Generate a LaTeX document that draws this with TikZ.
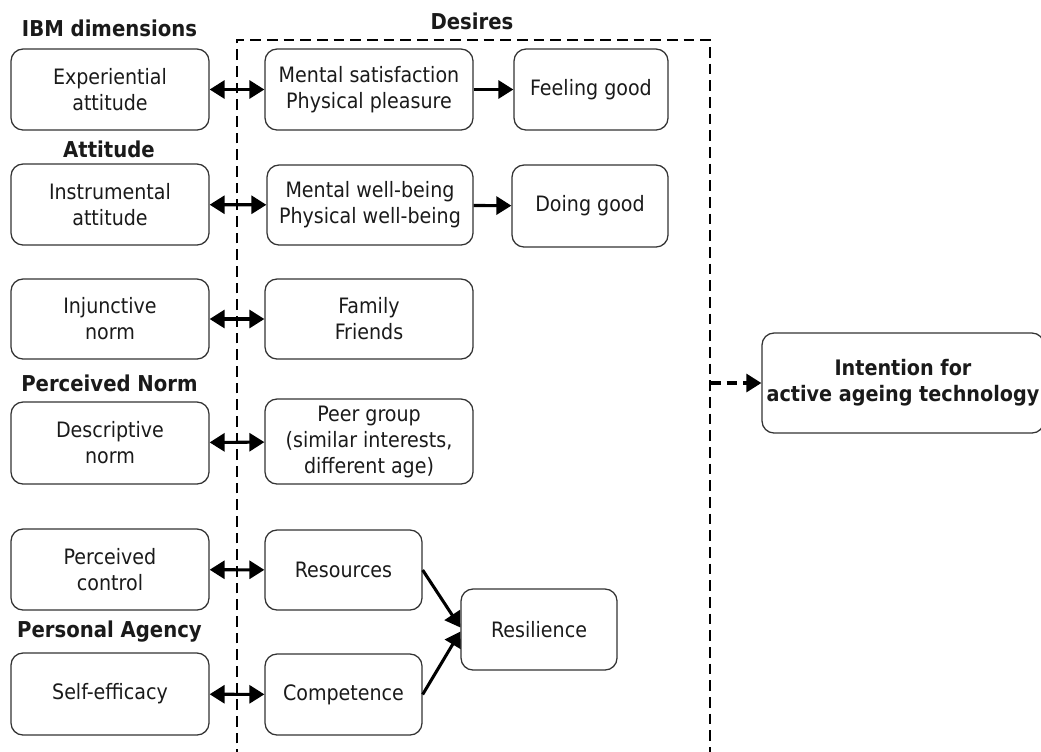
\documentclass[tikz,border=0pt]{standalone}
\usepackage{fontspec}
\setmainfont{DejaVu Sans Condensed}
\usetikzlibrary{arrows.meta}
\definecolor{ink}{HTML}{1A1A1A}
\definecolor{edge}{HTML}{333333}
\tikzset{
  box/.style={draw=edge, line width=0.95pt, rounded corners=9pt, align=center, text=ink,
    font=\fontsize{15.9}{19.5}\selectfont, inner sep=0pt},
  lab/.style={text=ink, font=\fontsize{16.4}{19.5}\selectfont\bfseries, inner sep=0pt},
  tip/.style={line width=2.3pt, draw=black},
  dbl/.style={tip, {Triangle[length=11.25pt,width=13.5pt]}-{Triangle[length=11.25pt,width=13.5pt]}},
  sgl/.style={tip, -{Triangle[length=11.25pt,width=13.5pt]}},
  frame/.style={line width=2.2pt, dash pattern=on 8pt off 4.5pt},
}
\begin{document}
\begin{tikzpicture}[x=0.75pt,y=-0.75pt]
\useasboundingbox (0,0) rectangle (1041,751);
% labels
\node[lab] (ibm) at (109.5,28) {IBM dimensions};
\node[lab] (des) at (472,21) {Desires};
\node[lab] (att) at (109,149) {Attitude};
\node[lab] (pn) at (109.5,383) {Perceived Norm};
\node[lab] (pa) at (109.5,632) {Personal Agency};
% dashed frame
\coordinate (fbl) at (237,760);
\coordinate (ftl) at (237,40);
\coordinate (ftr) at (710,40);
\coordinate (fbr) at (710,760);
\coordinate (fout) at (710,383);
\draw[frame] (fbl) -- (ftl) -- (ftr) -- (fbr);
% left boxes
\node[box, minimum width=198*0.75pt, minimum height=81*0.75pt] (exp) at (110,89.5) {Experiential\\attitude};
\node[box, minimum width=198*0.75pt, minimum height=81*0.75pt] (ins) at (110,204.5) {Instrumental\\attitude};
\node[box, minimum width=198*0.75pt, minimum height=80*0.75pt] (inj) at (110,319) {Injunctive\\norm};
\node[box, minimum width=198*0.75pt, minimum height=82*0.75pt] (dn) at (110,443) {Descriptive\\norm};
\node[box, minimum width=198*0.75pt, minimum height=81*0.75pt] (pc) at (110,569.5) {Perceived\\control};
\node[box, minimum width=198*0.75pt, minimum height=82*0.75pt] (se) at (110,694) {Self-efficacy};
% middle boxes
\node[box, minimum width=208*0.75pt, minimum height=81*0.75pt] (ms) at (369,89.5) {Mental satisfaction\\Physical pleasure};
\node[box, minimum width=206*0.75pt, minimum height=80*0.75pt] (mw) at (370,205) {Mental well-being\\Physical well-being};
\node[box, minimum width=208*0.75pt, minimum height=80*0.75pt] (ff) at (369,319) {Family\\Friends};
\node[box, minimum width=208*0.75pt, minimum height=85*0.75pt] (pg) at (369,441.5) {Peer group\\(similar interests,\\different age)};
\node[box, minimum width=157*0.75pt, minimum height=80*0.75pt] (res) at (343.5,570) {Resources};
\node[box, minimum width=157*0.75pt, minimum height=81*0.75pt] (com) at (343.5,694.5) {Competence};
% right boxes
\node[box, minimum width=154*0.75pt, minimum height=81*0.75pt] (fg) at (591,89.5) {Feeling good};
\node[box, minimum width=156*0.75pt, minimum height=82*0.75pt] (dg) at (590,206) {Doing good};
\node[box, minimum width=156*0.75pt, minimum height=81*0.75pt] (resil) at (539,629.5) {Resilience};
\node[box, minimum width=282*0.75pt, minimum height=100*0.75pt, font=\fontsize{16}{19.5}\selectfont\bfseries] (int) at (903,383) {Intention for\\active ageing technology};
% connectors
\draw[dbl] (exp) -- (ms);
\draw[dbl] (ins) -- (mw);
\draw[dbl] (inj) -- (ff);
\draw[dbl] (dn) -- (pg);
\draw[dbl] (pc) -- (res);
\draw[dbl] (se) -- (com);
\draw[sgl] (ms) -- (fg);
\draw[sgl] (mw) -- (dg);
\draw[sgl] (res.east) -- ([yshift=1.5pt]resil.west);
\draw[sgl] (com.east) -- ([yshift=-1.5pt]resil.west);
\draw[line width=2.3pt, dash pattern=on 8pt off 4.5pt, -{Triangle[length=11.25pt,width=13.5pt]}] (fout) -- (int.west);
\end{tikzpicture}
\end{document}
